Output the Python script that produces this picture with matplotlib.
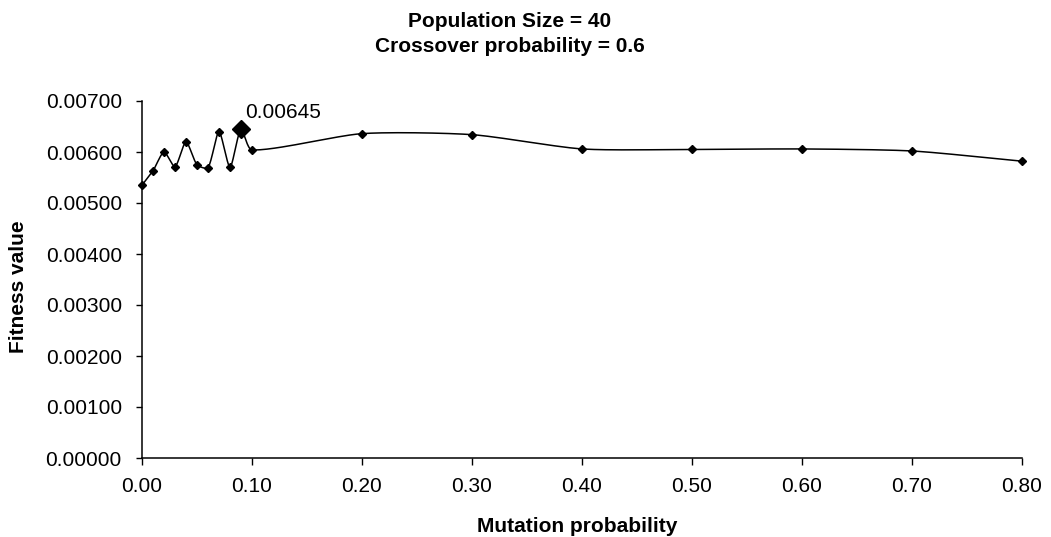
import numpy as np
import matplotlib
matplotlib.use("Agg")
import matplotlib.pyplot as plt

# Data
mutation = [0.00, 0.01, 0.02, 0.03, 0.04, 0.05, 0.06, 0.07, 0.08, 0.09, 0.10,
            0.20, 0.30, 0.40, 0.50, 0.60, 0.70, 0.80]
fitness = [0.00535, 0.00563, 0.00600, 0.00571, 0.00620, 0.00575, 0.00569, 0.00640,
           0.00570, 0.00645, 0.00604, 0.00636, 0.00634, 0.00606, 0.00605, 0.00606,
           0.00602, 0.00582]
x_ticks = [0.0, 0.1, 0.2, 0.3, 0.4, 0.5, 0.6, 0.7, 0.8]
y_ticks = [0.0, 0.001, 0.002, 0.003, 0.004, 0.005, 0.006, 0.007]
max_idx = 9
max_label = "0.00645"
title_lines = ["Population Size = 40", "Crossover probability = 0.6"]
x_label = "Mutation probability"
y_label = "Fitness value"

plt.rcParams['font.family'] = ['Liberation Sans', 'DejaVu Sans']

W, H = 1051, 537
fig = plt.figure(figsize=(W / 100, H / 100), dpi=100)
ax = fig.add_axes([142 / W, 1 - 458 / H, (1022 - 142) / W, (458 - 101) / H])
ax.set_xlim(0, 0.8)
ax.set_ylim(0, 0.007)

# Smoothed line drawn as Bezier segments in display space (chord-weighted tangents)
pts = ax.transData.transform(np.column_stack([mutation, fitness]))
n = len(pts)
curve = [pts[0]]
t = np.linspace(0, 1, 30)[1:]
tension = 0.7


def tangent_ctrl(prev_p, p, next_p, seg_len):
    d_prev = np.linalg.norm(p - prev_p)
    d_next = np.linalg.norm(next_p - p)
    if d_prev + d_next == 0:
        return np.zeros(2)
    return (next_p - prev_p) * seg_len / (d_prev + d_next) / 3.0 * tension


for i in range(n - 1):
    p0 = pts[i - 1] if i > 0 else pts[i]
    p1 = pts[i]
    p2 = pts[i + 1]
    p3 = pts[i + 2] if i + 2 < n else pts[i + 1]
    seg = np.linalg.norm(p2 - p1)
    b1 = p1 + tangent_ctrl(p0, p1, p2, seg)
    b2 = p2 - tangent_ctrl(p1, p2, p3, seg)
    for tt in t:
        c = ((1 - tt) ** 3) * p1 + 3 * ((1 - tt) ** 2) * tt * b1 \
            + 3 * (1 - tt) * tt ** 2 * b2 + tt ** 3 * p2
        curve.append(c)
curve = ax.transData.inverted().transform(np.array(curve))
ax.plot(curve[:, 0], curve[:, 1], color='black', lw=1.1, clip_on=False, zorder=3)

ax.plot(mutation, fitness, linestyle='none', marker='D', markersize=4.5,
        color='black', clip_on=False, zorder=4)
ax.plot([mutation[max_idx]], [fitness[max_idx]], linestyle='none', marker='D',
        markersize=9, color='black', clip_on=False, zorder=5)
ax.annotate(max_label, xy=(mutation[max_idx], fitness[max_idx]),
            xytext=(4, 11), textcoords='offset pixels', ha='left', va='baseline',
            fontsize=15, color='black')

ax.set_xticks(x_ticks)
ax.set_xticklabels([f"{v:.2f}" for v in x_ticks])
ax.set_yticks(y_ticks)
ax.set_yticklabels([f"{v:.5f}" for v in y_ticks])
ax.tick_params(axis='y', labelsize=15, direction='out', length=4.5, width=1, pad=10, colors='black')
ax.tick_params(axis='x', labelsize=15, direction='out', length=5, width=1, pad=9, colors='black')

for s in ['top', 'right']:
    ax.spines[s].set_visible(False)
for s in ['left', 'bottom']:
    ax.spines[s].set_linewidth(1.1)
    ax.spines[s].set_color('black')

fig.text(577 / W, 1 - 532 / H, x_label, ha='center', va='baseline',
         fontsize=15, fontweight='bold')
fig.text(19 / W, 1 - 287 / H, y_label, ha='center', va='center', rotation=90,
         fontsize=15, fontweight='bold')

fig.text(510 / W, 1 - 27 / H, title_lines[0], ha='center', va='baseline',
         fontsize=15, fontweight='bold')
fig.text(510 / W, 1 - 52 / H, title_lines[1], ha='center', va='baseline',
         fontsize=15, fontweight='bold')

fig.savefig("out.png", dpi=100, facecolor='white')
